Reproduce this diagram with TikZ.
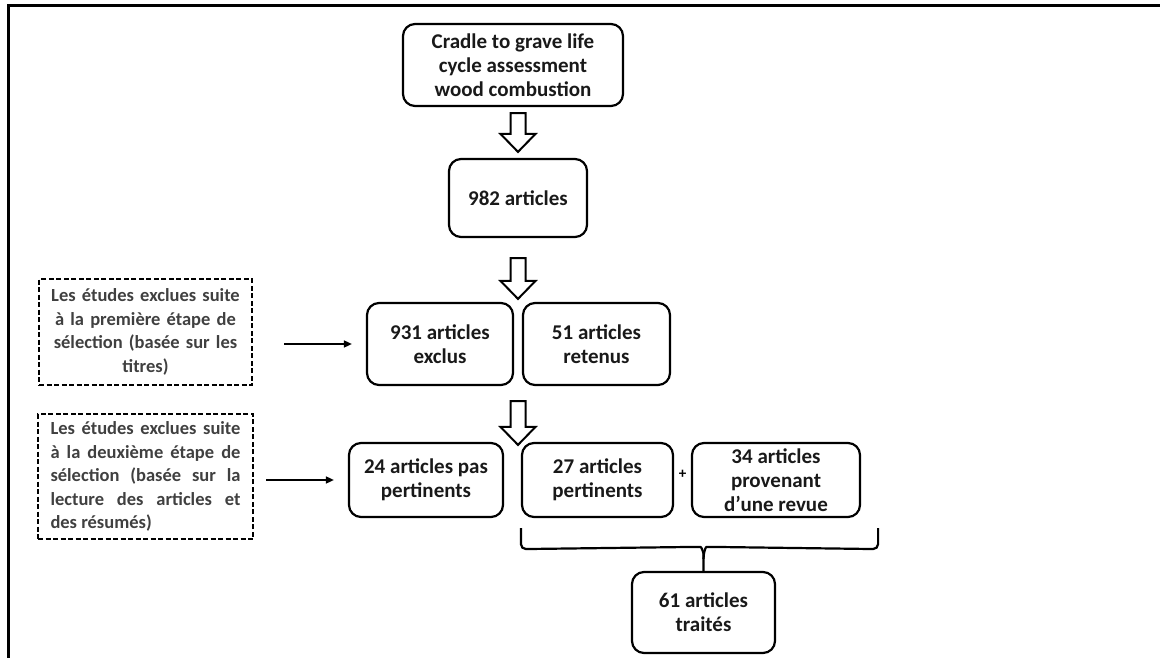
\documentclass[tikz,border=0pt]{standalone}
\usepackage{fontspec}
\setmainfont{Carlito}
\usepackage{tikz}
\usetikzlibrary{calc,positioning,arrows.meta}
\tikzset{stage/.style={draw,line width=2.2pt,rounded corners=12pt,align=center,inner sep=0pt,text=black!90,font=\bfseries\fontsize{21}{24}\selectfont},
	excluded/.style={draw,dashed,dash pattern=on 5pt off 2.5pt,line width=2pt,inner sep=0pt,text=black!75,font=\bfseries\fontsize{18.5}{23.5}\selectfont},
	thin arrow/.style={line width=1.6pt,-{Triangle[length=8pt,width=7pt]}},
	block arrow/.style={line width=2pt,fill=white,line join=miter},
	brace line/.style={line width=2.2pt,rounded corners=5pt}}
\newcommand{\blockarrow}[2]{\draw[block arrow] ($(#1)+(-7.5,0)$) -- ($(#2)+(-7.5,-18)$) -- ($(#2)+(-17.5,-18)$) -- (#2) -- ($(#2)+(17.5,-18)$) -- ($(#2)+(7.5,-18)$) -- ($(#1)+(7.5,0)$) -- cycle;}

\begin{document}
\begin{tikzpicture}[x=1pt,y=-1pt]
	\useasboundingbox (0,0) rectangle (1160,658);
	\draw[line width=3pt] (8,658) -- (8,6) -- (1160,6);
	\node[stage,minimum width=220pt,minimum height=82pt] (cradle) at (513,65) {Cradle to grave life\\cycle assessment\\wood combustion};
	\node[stage,minimum width=138pt,minimum height=78pt] (n982) at (518,198) {982 articles};
	\node[stage,minimum width=146pt,minimum height=82pt] (n931) at (440,344) {931 articles\\exclus};
	\node[stage,minimum width=147pt,minimum height=82pt] (n51) at (596.5,344) {51 articles\\retenus};
	\node[stage,minimum width=154pt,minimum height=74pt] (n24) at (426,480) {24 articles pas\\pertinents};
	\node[stage,minimum width=151pt,minimum height=74pt] (n27) at (597.5,480) {27 articles\\pertinents};
	\node[stage,minimum width=168pt,minimum height=74pt] (n34) at (776,480) {34 articles\\provenant\\d’une revue};
	\node[stage,minimum width=143pt,minimum height=81pt] (n61) at (703.5,612.5) {61 articles\\traités};
	\node[font=\bfseries\fontsize{15}{15}\selectfont] (plus) at ($(n27.east)!0.5!(n34.west)+(0,-6)$) {+};
	\node[excluded,minimum width=213pt,minimum height=106pt,text width=190pt,align=center] (sel1) at (145.5,332) {Les études exclues suite\\à la première étape de\\sélection (basée sur les\\titres)};
	\node[excluded,minimum width=215pt,minimum height=125pt,text width=190pt,align=justify] (sel2) at (145.5,476.5) {Les études exclues suite\linebreak à la deuxième étape de\linebreak sélection (basée sur la\linebreak lecture des articles et\linebreak des résumés)};
	\draw[thin arrow,shorten <=31pt,shorten >=14pt] (sel1.east |- n931.west) -- (n931.west);
	\draw[thin arrow,shorten <=12pt,shorten >=14pt] (sel2.east |- n24.west) -- (n24.west);
	\coordinate (a1top) at ($(cradle.south -| n982.north)+(0,6)$);
	\coordinate (a1tip) at ($(n982.north)+(0,-6)$);
	\coordinate (a2top) at ($(n982.south)+(0,20)$);
	\coordinate (a2tip) at ($(n931.north -| n982.south)+(0,-3)$);
	\coordinate (a3top) at ($(n931.south -| n982.south)+(0,15)$);
	\coordinate (a3tip) at ($(n24.north -| n982.south)+(0,3)$);
	\blockarrow{a1top}{a1tip}
	\blockarrow{a2top}{a2tip}
	\blockarrow{a3top}{a3tip}
	\coordinate (brl) at ($(n27.south west)+(0,10)$);
	\coordinate (brr) at ($(n34.south east)+(17,10)$);
	\coordinate (cusp) at ($(n61.north)+(0,-12)$);
	\draw[brace line] (brl) -- ++(0,21) -- ($(cusp)+(-8,-12)$) .. controls ($(cusp)+(-2,-12)$) and ($(cusp)+(0,-6)$) .. (cusp) -- (n61.north);
	\draw[brace line] (brr) -- ++(0,21) -- ($(cusp)+(8,-12)$) .. controls ($(cusp)+(2,-12)$) and ($(cusp)+(0,-6)$) .. (cusp);
\end{tikzpicture}
\end{document}
